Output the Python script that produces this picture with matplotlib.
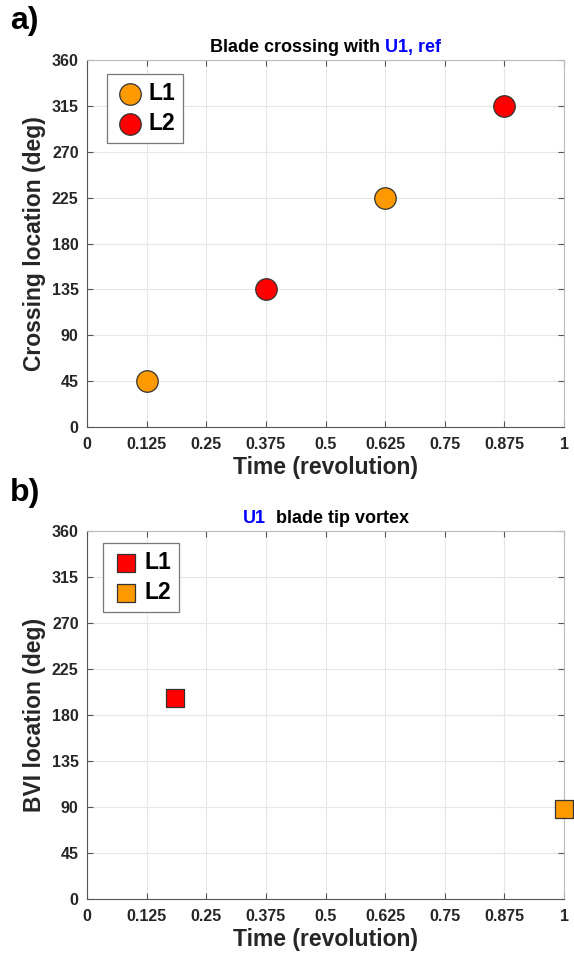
import matplotlib.pyplot as plt
import numpy as np

plt.rcParams['font.family'] = ['Liberation Sans', 'DejaVu Sans']

# panel a: blade crossing
a_l1_t = [0.125, 0.625]
a_l1_deg = [45, 225]
a_l2_t = [0.375, 0.875]
a_l2_deg = [135, 315]

# panel b: BVI location
b_l1_t = [0.185]
b_l1_deg = [197]
b_l2_t = [1.0]
b_l2_deg = [88]

xticks = [0, 0.125, 0.25, 0.375, 0.5, 0.625, 0.75, 0.875, 1]
xticklabels = ['0', '0.125', '0.25', '0.375', '0.5', '0.625', '0.75', '0.875', '1']
yticks = [0, 45, 90, 135, 180, 225, 270, 315, 360]

orange = '#FF9900'
red = '#FF0000'

fig = plt.figure(figsize=(5.74, 9.59), dpi=100)
ax1 = fig.add_axes([0.1516, 0.5547, 0.831, 0.3827])
ax2 = fig.add_axes([0.1516, 0.0626, 0.831, 0.3837])


def style(ax, ylabel):
    ax.set_xlim(0, 1)
    ax.set_ylim(0, 360)
    ax.set_xticks(xticks)
    ax.set_xticklabels(xticklabels)
    ax.set_yticks(yticks)
    ax.grid(True, color='#e6e6e6', linewidth=0.8)
    ax.set_axisbelow(True)
    ax.tick_params(direction='in', length=4, width=0.8, color='#555555',
                   top=True, right=True, labelsize=11.5)
    ax.tick_params(axis='x', pad=7)
    ax.tick_params(axis='y', pad=6)
    for lab in ax.get_xticklabels() + ax.get_yticklabels():
        lab.set_fontweight('bold')
        lab.set_color('#262626')
    for s in ['left', 'bottom']:
        ax.spines[s].set_color('#555555')
    for s in ['top', 'right']:
        ax.spines[s].set_color('#bbbbbb')
    ax.set_xlabel('Time (revolution)', fontsize=16.5, fontweight='bold',
                  color='#262626', labelpad=3)
    ax.set_ylabel(ylabel, fontsize=16.5, fontweight='bold', color='#262626',
                  labelpad=4)


def colored_title(ax, parts, y=1.012):
    # draw pieces side by side, then center the whole line
    fig.canvas.draw()
    r = fig.canvas.get_renderer()
    texts = []
    for s, c in parts:
        t = ax.text(0, y, s, transform=ax.transAxes, color=c, fontsize=13,
                    fontweight='bold', ha='left', va='bottom')
        texts.append(t)
    widths = [t.get_window_extent(r).width for t in texts]
    axw = ax.get_window_extent(r).width
    x0 = 0.5 - sum(widths) / axw / 2
    for t, w in zip(texts, widths):
        t.set_x(x0)
        x0 += w / axw


def add_legend(ax, anchor):
    leg = ax.legend(loc='upper left', bbox_to_anchor=anchor,
                    prop={'weight': 'bold', 'size': 16.5}, fancybox=False,
                    edgecolor='#777777', framealpha=1, handletextpad=0.15,
                    borderpad=0.35, labelspacing=0.3, handlelength=1.3,
                    borderaxespad=0)
    leg.get_frame().set_linewidth(0.9)


ax1.scatter(a_l1_t, a_l1_deg, s=240, c=orange, edgecolors='#333333', linewidths=0.9,
            label='L1', zorder=3, clip_on=False)
ax1.scatter(a_l2_t, a_l2_deg, s=240, c=red, edgecolors='#333333', linewidths=0.9,
            label='L2', zorder=3, clip_on=False)
style(ax1, 'Crossing location (deg)')
add_legend(ax1, (20 / 477, 1 - 14 / 367))

ax2.scatter(b_l1_t, b_l1_deg, s=150, marker='s', c=red, edgecolors='#333333', linewidths=0.9,
            label='L1', zorder=3, clip_on=False)
ax2.scatter(b_l2_t, b_l2_deg, s=150, marker='s', c=orange, edgecolors='#333333', linewidths=0.9,
            label='L2', zorder=3, clip_on=False)
style(ax2, 'BVI location (deg)')
add_legend(ax2, (16 / 477, 1 - 12 / 368))

colored_title(ax1, [('Blade crossing with ', 'black'), ('U1, ref', '#0000FF')])
colored_title(ax2, [('U1', '#0000FF'), ('  blade tip vortex', 'black')])

fig.text(0.018, 0.978, 'a)', fontsize=23, fontweight='bold', va='center', ha='left')
fig.text(0.018, 0.486, 'b)', fontsize=23, fontweight='bold', va='center', ha='left')

fig.savefig('out.png', dpi=100)
